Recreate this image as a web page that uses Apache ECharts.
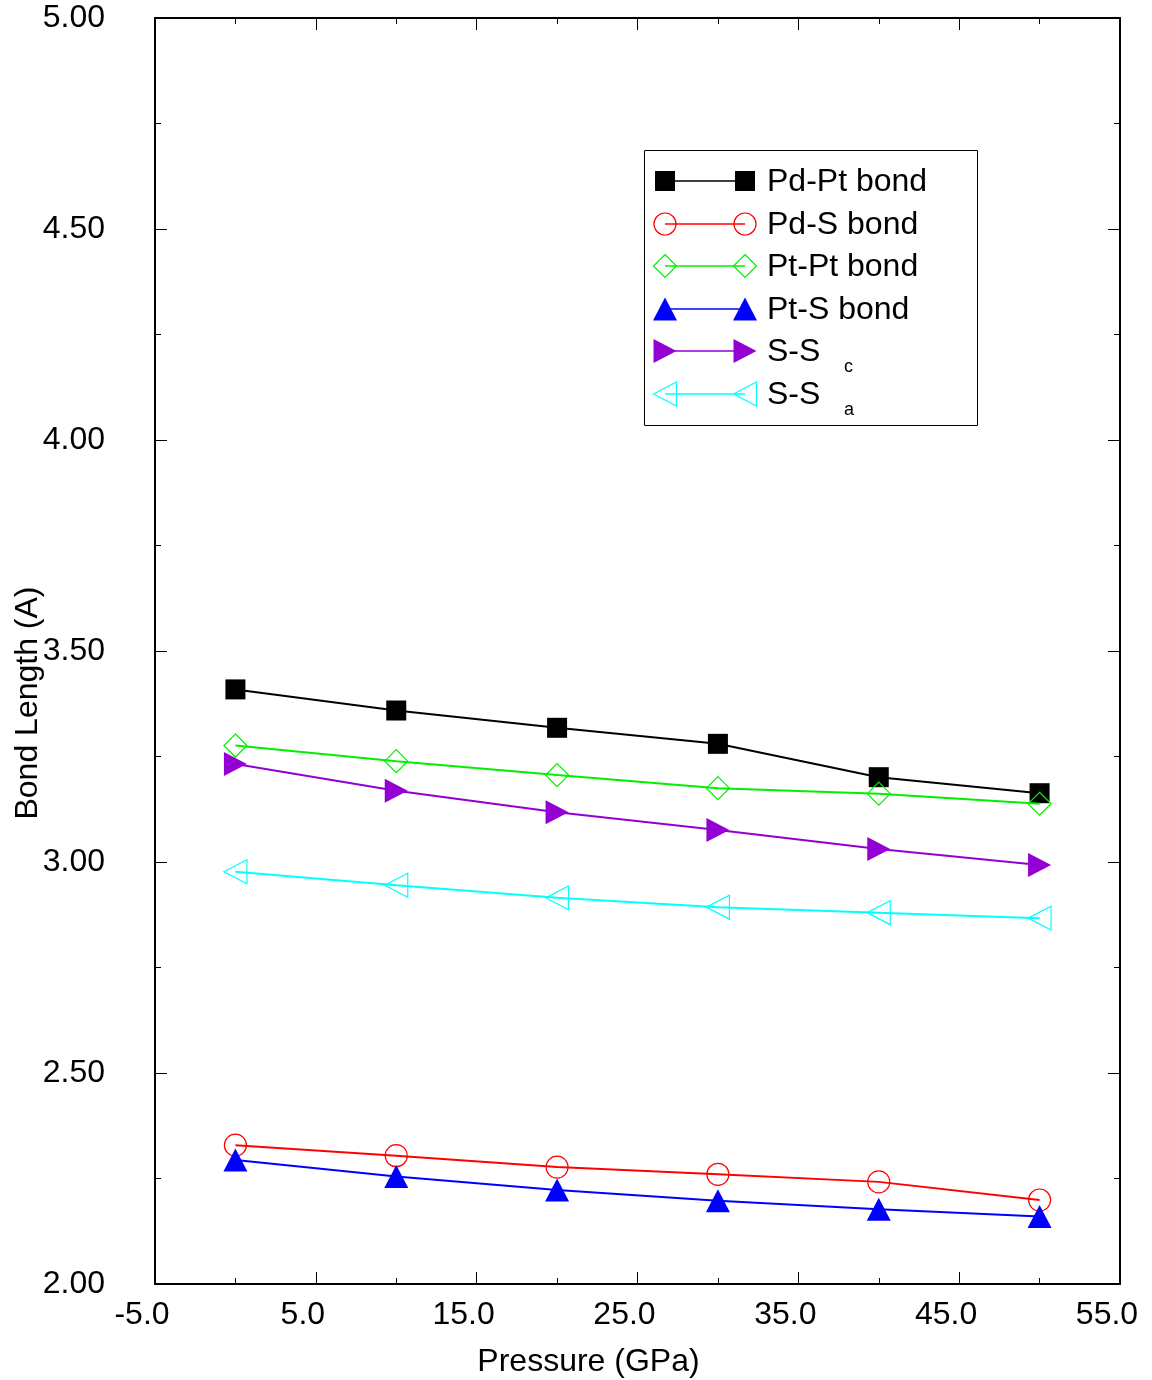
<!DOCTYPE html>
<html>
<head>
<meta charset="utf-8">
<title>Bond Length vs Pressure</title>
<script src="https://cdn.jsdelivr.net/npm/echarts@6/dist/echarts.min.js"></script>
<style>
  html, body { margin: 0; padding: 0; background: #fff; }
  #chart { width: 1152px; height: 1380px; }
</style>
</head>
<body>
<div id="chart"></div>
<script>
// Pressure (GPa) and bond lengths (A)
const pressure = [0, 10, 20, 30, 40, 50];
const pdPt = [3.409, 3.359, 3.318, 3.280, 3.201, 3.163];
const pdS  = [2.329, 2.304, 2.277, 2.260, 2.242, 2.199];
const ptPt = [3.276, 3.239, 3.206, 3.175, 3.162, 3.138];
const ptS  = [2.294, 2.255, 2.223, 2.197, 2.177, 2.160];
const ssC  = [3.232, 3.169, 3.118, 3.076, 3.031, 2.993];
const ssA  = [2.977, 2.945, 2.915, 2.893, 2.880, 2.867];

const seriesNames = ['Pd-Pt bond', 'Pd-S bond', 'Pt-Pt bond', 'Pt-S bond', 'S-S', 'S-S'];
const subscripts = ['', '', '', '', 'c', 'a'];
const yTitle = 'Bond Length (A)';
const xTitle = 'Pressure (GPa)';

const FONT = "'Liberation Sans', Arial, Helvetica, sans-serif";

// Marker style for each series
const styles = [
  { values: pdPt, color: '#000000', symbol: 'rect',     size: 20,       rotate: 0,   filled: true,  shape: 'square' },
  { values: pdS,  color: '#ff0000', symbol: 'circle',   size: 22,       rotate: 0,   filled: false, shape: 'circle' },
  { values: ptPt, color: '#00f000', symbol: 'diamond',  size: 23,       rotate: 0,   filled: false, shape: 'diamond' },
  { values: ptS,  color: '#0000ff', symbol: 'triangle', size: [24, 23], rotate: 0,   filled: true,  shape: 'up' },
  { values: ssC,  color: '#9400d3', symbol: 'triangle', size: [24, 23], rotate: -90, filled: true,  shape: 'right' },
  { values: ssA,  color: '#00ffff', symbol: 'triangle', size: [24, 23], rotate: 90,  filled: false, shape: 'left' }
];

const series = styles.map((s, i) => ({
  name: seriesNames[i] + subscripts[i],
  type: 'line',
  data: pressure.map((p, k) => [p, s.values[k]]),
  symbol: s.symbol,
  symbolSize: s.size,
  symbolRotate: s.rotate,
  showAllSymbol: true,
  lineStyle: { color: s.color, width: 2 },
  itemStyle: {
    color: s.filled ? s.color : 'rgba(255,255,255,0)',
    borderColor: s.color,
    borderWidth: s.filled ? 0 : 1.2
  },
  emphasis: { disabled: true },
  animation: false,
  z: 2 + i
}));

// Legend drawn as a boxed key: line with a marker at each end
function markerShape(shape, cx, cy, color, filled) {
  const style = filled ? { fill: color, stroke: null } : { fill: 'none', stroke: color, lineWidth: 1.2 };
  if (shape === 'square') {
    return { type: 'rect', shape: { x: cx - 10, y: cy - 10, width: 20, height: 20 }, style };
  }
  if (shape === 'circle') {
    return { type: 'circle', shape: { cx, cy, r: 11 }, style };
  }
  if (shape === 'diamond') {
    return { type: 'polygon', shape: { points: [[cx, cy - 11.5], [cx + 11.5, cy], [cx, cy + 11.5], [cx - 11.5, cy]] }, style };
  }
  if (shape === 'up') {
    return { type: 'polygon', shape: { points: [[cx, cy - 11.5], [cx + 12, cy + 11.5], [cx - 12, cy + 11.5]] }, style };
  }
  if (shape === 'right') {
    return { type: 'polygon', shape: { points: [[cx + 11.5, cy], [cx - 11.5, cy - 12], [cx - 11.5, cy + 12]] }, style };
  }
  return { type: 'polygon', shape: { points: [[cx - 11.5, cy], [cx + 11.5, cy - 12], [cx + 11.5, cy + 12]] }, style };
}

const legendLeft = 644, legendTop = 150, legendW = 333, legendH = 275;
const rowY0 = 181, rowStep = 42.6;
const keyX1 = 665, keyX2 = 745, textX = 767;

const graphics = [{
  type: 'rect',
  shape: { x: legendLeft + 0.5, y: legendTop + 0.5, width: legendW, height: legendH },
  style: { fill: '#fff', stroke: '#000', lineWidth: 1 },
  z: 20
}];
styles.forEach((s, i) => {
  const y = Math.round(rowY0 + i * rowStep);
  graphics.push({
    type: 'line',
    shape: { x1: keyX1, y1: y, x2: keyX2, y2: y },
    style: { stroke: s.color, lineWidth: 1.5 },
    z: 22
  });
  [keyX1, keyX2].forEach(x => {
    const m = markerShape(s.shape, x, y, s.color, s.filled);
    m.z = 23;
    graphics.push(m);
  });
  graphics.push({
    type: 'text',
    style: { text: seriesNames[i], x: textX, y: y + 1, font: '32px ' + FONT, fill: '#000', verticalAlign: 'middle', align: 'left' },
    z: 24
  });
  if (subscripts[i]) {
    graphics.push({
      type: 'text',
      style: { text: subscripts[i], x: 844, y: y + 16, font: '18px ' + FONT, fill: '#000', verticalAlign: 'middle', align: 'left' },
      z: 24
    });
  }
});

// Vertical axis title
graphics.push({
  type: 'text',
  x: 28, y: 703, rotation: Math.PI / 2,
  style: { text: yTitle, font: '32px ' + FONT, fill: '#000', align: 'center', verticalAlign: 'middle' },
  z: 5
});

const axisLine = { show: true, onZero: false, lineStyle: { color: '#000', width: 2 } };
const tickStyle = { color: '#000', width: 1 };

const option = {
  backgroundColor: '#ffffff',
  animation: false,
  textStyle: { fontFamily: FONT },
  grid: { left: 155, right: 32, top: 18, bottom: 96, containLabel: false, outerBoundsMode: 'none' },
  xAxis: [
    {
      type: 'value', position: 'bottom', min: -5, max: 55, interval: 10,
      axisLine,
      axisTick: { show: true, inside: true, length: 12, lineStyle: tickStyle },
      minorTick: { show: true, splitNumber: 2, length: 6, lineStyle: tickStyle },
      splitLine: { show: false },
      axisLabel: {
        show: true, margin: 15, color: '#000', fontSize: 32, fontFamily: FONT,
        padding: [0, 26, 0, 0],
        formatter: v => v.toFixed(1)
      },
      name: xTitle, nameLocation: 'middle', nameGap: 62,
      nameTextStyle: { color: '#000', fontSize: 32, fontFamily: FONT, padding: [0, 98, 0, 0] }
    },
    {
      type: 'value', position: 'top', min: -5, max: 55, interval: 10,
      axisLine,
      axisTick: { show: true, inside: true, length: 12, lineStyle: tickStyle },
      minorTick: { show: true, splitNumber: 2, length: 6, lineStyle: tickStyle },
      splitLine: { show: false },
      axisLabel: { show: false }
    }
  ],
  yAxis: [
    {
      type: 'value', position: 'left', min: 2, max: 5, interval: 0.5,
      axisLine,
      axisTick: { show: true, inside: true, length: 12, lineStyle: tickStyle },
      minorTick: { show: true, splitNumber: 2, length: 6, lineStyle: tickStyle },
      splitLine: { show: false },
      axisLabel: {
        show: true, margin: 50, color: '#000', fontSize: 32, fontFamily: FONT,
        formatter: v => v.toFixed(2)
      }
    },
    {
      type: 'value', position: 'right', min: 2, max: 5, interval: 0.5,
      axisLine,
      axisTick: { show: true, inside: true, length: 12, lineStyle: tickStyle },
      minorTick: { show: true, splitNumber: 2, length: 6, lineStyle: tickStyle },
      splitLine: { show: false },
      axisLabel: { show: false }
    }
  ],
  series,
  graphic: graphics
};

const chart = echarts.init(document.getElementById('chart'), null, { renderer: 'canvas' });
chart.setOption(option);
</script>
</body>
</html>
